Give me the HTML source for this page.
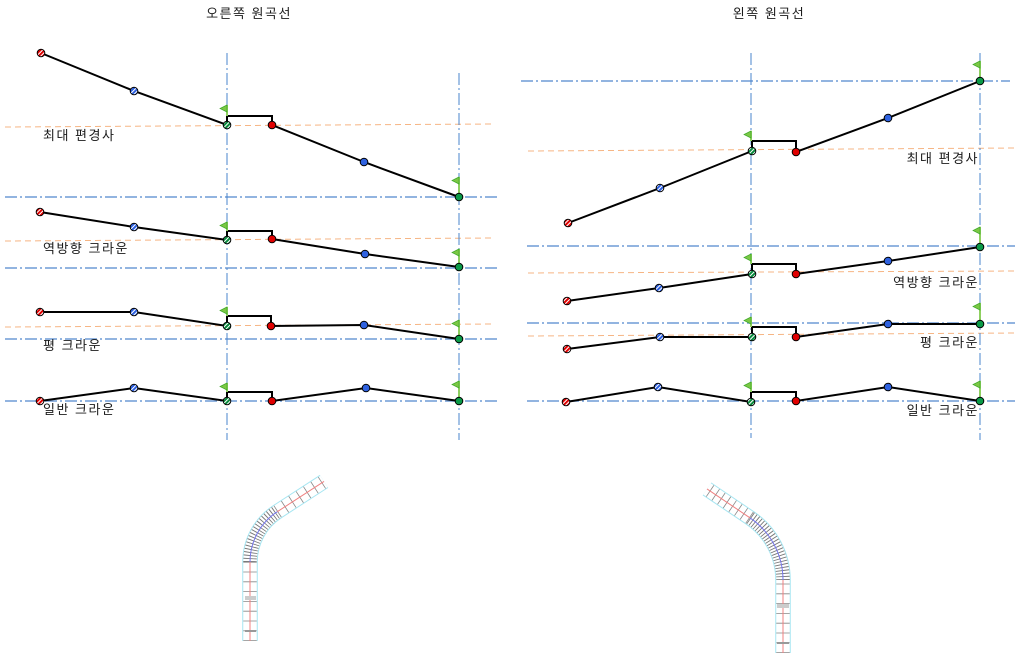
<!DOCTYPE html>
<html><head><meta charset="utf-8"><style>
html,body{margin:0;padding:0;background:#fff;}
svg{display:block;}
text{font-family:"Liberation Sans","Noto Sans CJK KR",sans-serif;font-size:13px;fill:#1a1a1a;letter-spacing:1.5px;}
</style></head><body>
<svg width="1024" height="668" viewBox="0 0 1024 668" xmlns="http://www.w3.org/2000/svg">
<defs>
<pattern id="hr" patternUnits="userSpaceOnUse" width="3" height="3" patternTransform="rotate(45)"><rect width="3" height="3" fill="#fff"/><rect width="2" height="3" fill="#e00000"/></pattern>
<pattern id="hb" patternUnits="userSpaceOnUse" width="3" height="3" patternTransform="rotate(45)"><rect width="3" height="3" fill="#fff"/><rect width="2" height="3" fill="#2a5ee0"/></pattern>
<pattern id="hg" patternUnits="userSpaceOnUse" width="3" height="3" patternTransform="rotate(45)"><rect width="3" height="3" fill="#fff"/><rect width="2" height="3" fill="#078a3c"/></pattern>
</defs>

<!-- titles -->
<text x="249" y="18" text-anchor="middle">오른쪽 원곡선</text>
<text x="769" y="18" text-anchor="middle">왼쪽 원곡선</text>

<!-- orange dashed lines -->
<g stroke="#f6b584" stroke-width="1" stroke-dasharray="6 4" fill="none">
<line x1="5" y1="127" x2="492" y2="124"/>
<line x1="5" y1="241" x2="492" y2="238"/>
<line x1="5" y1="327" x2="492" y2="324"/>
<line x1="528" y1="151" x2="1015" y2="148"/>
<line x1="528" y1="273" x2="1015" y2="271"/>
<line x1="528" y1="336" x2="1015" y2="333"/>
</g>

<!-- blue dash-dot horizontal -->
<g stroke="#6f9bd6" stroke-width="1.5" stroke-dasharray="12 3 2 3" fill="none">
<line x1="5" y1="197" x2="497" y2="197"/>
<line x1="5" y1="268" x2="497" y2="268"/>
<line x1="5" y1="339" x2="497" y2="339"/>
<line x1="5" y1="401" x2="497" y2="401"/>
<line x1="521" y1="81" x2="1010" y2="81"/>
<line x1="527" y1="246" x2="1015" y2="246"/>
<line x1="527" y1="323" x2="1015" y2="323"/>
<line x1="527" y1="401" x2="1015" y2="401"/>
</g>
<!-- blue dash-dot vertical -->
<g stroke="#4a84cc" stroke-width="1" stroke-dasharray="12 3 2 3" fill="none">
<line x1="227" y1="53" x2="227" y2="440"/>
<line x1="459" y1="73" x2="459" y2="440"/>
<line x1="751" y1="53" x2="751" y2="438"/>
<line x1="980" y1="53" x2="980" y2="440"/>
</g>

<!-- labels -->
<text x="43" y="140">최대 편경사</text>
<text x="43" y="253">역방향 크라운</text>
<text x="43" y="350">평 크라운</text>
<text x="43" y="414">일반 크라운</text>
<text x="979" y="163" text-anchor="end">최대 편경사</text>
<text x="979" y="287" text-anchor="end">역방향 크라운</text>
<text x="979" y="347" text-anchor="end">평 크라운</text>
<text x="979" y="415" text-anchor="end">일반 크라운</text>

<!-- profile lines -->
<g stroke="#000" stroke-width="2" fill="none" stroke-linejoin="miter">
<polyline points="41,53 134,91 227,125 227,116 272,116 272,125 364,162 459,197"/>
<polyline points="40,212 134,227 227,240 227,231 272,231 272,239 365,254 459,267"/>
<polyline points="40,312 134,312 227,326 227,316 271,316 271,326 364,325 459,339"/>
<polyline points="40,401 134,388 227,401 227,392 272,392 272,401 366,388 459,401"/>
<polyline points="568,223 660,188 752,151 752,141 796,141 796,152 888,118 980,81"/>
<polyline points="567,301 659,288 752,274 752,264 796,264 796,274 888,261 980,247"/>
<polyline points="567,349 660,337 752,337 752,327 796,327 796,337 888,324 980,324"/>
<polyline points="566,402 658,387 751,402 751,392 796,392 796,401 888,387 980,401"/>
</g>

<!-- flags -->
<g>
<g stroke="#8fd060" stroke-width="2">
<line x1="227" y1="105" x2="227" y2="116"/><line x1="459" y1="177" x2="459" y2="197"/>
<line x1="227" y1="222" x2="227" y2="231"/><line x1="459" y1="249" x2="459" y2="267"/>
<line x1="227" y1="307" x2="227" y2="316"/><line x1="459" y1="320" x2="459" y2="339"/>
<line x1="227" y1="383" x2="227" y2="392"/><line x1="459" y1="381" x2="459" y2="401"/>
<line x1="751" y1="131" x2="751" y2="141"/><line x1="980" y1="61" x2="980" y2="81"/>
<line x1="751" y1="254" x2="751" y2="264"/><line x1="980" y1="227" x2="980" y2="246"/>
<line x1="751" y1="317" x2="751" y2="327"/><line x1="980" y1="303" x2="980" y2="323"/>
<line x1="751" y1="382" x2="751" y2="392"/><line x1="980" y1="381" x2="980" y2="401"/>
</g>
<g fill="#7cc845" stroke="#3fa82a" stroke-width="0.7">
<polygon points="227,105 220,108.5 227,112"/><polygon points="459,177 452,180.5 459,184"/>
<polygon points="227,222 220,225.5 227,229"/><polygon points="459,249 452,252.5 459,256"/>
<polygon points="227,307 220,310.5 227,314"/><polygon points="459,320 452,323.5 459,327"/>
<polygon points="227,383 220,386.5 227,390"/><polygon points="459,381 452,384.5 459,388"/>
<polygon points="751,131 744,134.5 751,138"/><polygon points="980,61 973,64.5 980,68"/>
<polygon points="751,254 744,257.5 751,261"/><polygon points="980,227 973,230.5 980,234"/>
<polygon points="751,317 744,320.5 751,324"/><polygon points="980,303 973,306.5 980,310"/>
<polygon points="751,382 744,385.5 751,389"/><polygon points="980,381 973,384.5 980,388"/>
</g>
</g>

<!-- markers -->
<g stroke="#000" stroke-width="1">
<circle cx="41" cy="53" r="3.8" fill="url(#hr)"/><circle cx="134" cy="91" r="3.8" fill="url(#hb)"/><circle cx="227" cy="125" r="3.8" fill="url(#hg)"/>
<circle cx="272" cy="125" r="3.8" fill="#e00000"/><circle cx="364" cy="162" r="3.8" fill="#2f62e0"/><circle cx="459" cy="197" r="3.8" fill="#0a9a48"/>
<circle cx="40" cy="212" r="3.8" fill="url(#hr)"/><circle cx="134" cy="227" r="3.8" fill="url(#hb)"/><circle cx="227" cy="240" r="3.8" fill="url(#hg)"/>
<circle cx="272" cy="239" r="3.8" fill="#e00000"/><circle cx="365" cy="254" r="3.8" fill="#2f62e0"/><circle cx="459" cy="267" r="3.8" fill="#0a9a48"/>
<circle cx="40" cy="312" r="3.8" fill="url(#hr)"/><circle cx="134" cy="312" r="3.8" fill="url(#hb)"/><circle cx="227" cy="326" r="3.8" fill="url(#hg)"/>
<circle cx="271" cy="326" r="3.8" fill="#e00000"/><circle cx="364" cy="325" r="3.8" fill="#2f62e0"/><circle cx="459" cy="339" r="3.8" fill="#0a9a48"/>
<circle cx="40" cy="401" r="3.8" fill="url(#hr)"/><circle cx="134" cy="388" r="3.8" fill="url(#hb)"/><circle cx="227" cy="401" r="3.8" fill="url(#hg)"/>
<circle cx="272" cy="401" r="3.8" fill="#e00000"/><circle cx="366" cy="388" r="3.8" fill="#2f62e0"/><circle cx="459" cy="401" r="3.8" fill="#0a9a48"/>
<circle cx="568" cy="223" r="3.8" fill="url(#hr)"/><circle cx="660" cy="188" r="3.8" fill="url(#hb)"/><circle cx="752" cy="151" r="3.8" fill="url(#hg)"/>
<circle cx="796" cy="152" r="3.8" fill="#e00000"/><circle cx="888" cy="118" r="3.8" fill="#2f62e0"/><circle cx="980" cy="81" r="3.8" fill="#0a9a48"/>
<circle cx="567" cy="301" r="3.8" fill="url(#hr)"/><circle cx="659" cy="288" r="3.8" fill="url(#hb)"/><circle cx="752" cy="274" r="3.8" fill="url(#hg)"/>
<circle cx="796" cy="274" r="3.8" fill="#e00000"/><circle cx="888" cy="261" r="3.8" fill="#2f62e0"/><circle cx="980" cy="247" r="3.8" fill="#0a9a48"/>
<circle cx="567" cy="349" r="3.8" fill="url(#hr)"/><circle cx="660" cy="337" r="3.8" fill="url(#hb)"/><circle cx="752" cy="337" r="3.8" fill="url(#hg)"/>
<circle cx="796" cy="337" r="3.8" fill="#e00000"/><circle cx="888" cy="324" r="3.8" fill="#2f62e0"/><circle cx="980" cy="324" r="3.8" fill="#0a9a48"/>
<circle cx="566" cy="402" r="3.8" fill="url(#hr)"/><circle cx="658" cy="387" r="3.8" fill="url(#hb)"/><circle cx="751" cy="402" r="3.8" fill="url(#hg)"/>
<circle cx="796" cy="401" r="3.8" fill="#e00000"/><circle cx="888" cy="387" r="3.8" fill="#2f62e0"/><circle cx="980" cy="401" r="3.8" fill="#0a9a48"/>
</g>

<!-- left road sketch -->
<g fill="none">
<path d="M250,641 L250,562 A60,60 0 0 1 277.3,511.7 L324,481.4" stroke="#a6e6f2" stroke-width="15.5"/>
<path d="M250,641 L250,562 A60,60 0 0 1 277.3,511.7 L324,481.4" stroke="#fff" stroke-width="13.5"/>
<path d="M250,641 L250,562" stroke="#888" stroke-width="13.5" stroke-dasharray="0.8 9"/>
<path d="M250,562 A60,60 0 0 1 277.3,511.7" stroke="#777" stroke-width="13.5" stroke-dasharray="0.9 2.1"/>
<path d="M277.3,511.7 L324,481.4" stroke="#888" stroke-width="13.5" stroke-dasharray="0.8 8"/>
<path d="M250,641 L250,562" stroke="#f08080" stroke-width="1"/>
<path d="M250,562 A60,60 0 0 1 277.3,511.7" stroke="#7777ee" stroke-width="1"/>
<path d="M277.3,511.7 L324,481.4" stroke="#f08080" stroke-width="1"/>
<rect x="245" y="596" width="11" height="4" fill="#ccc"/>
<rect x="245" y="630" width="11" height="2" fill="#999"/>
</g>
<!-- right road sketch -->
<g fill="none">
<path d="M783,653 L783,580 A75,75 0 0 0 749.9,517.8 L707,488.9" stroke="#a6e6f2" stroke-width="15.5"/>
<path d="M783,653 L783,580 A75,75 0 0 0 749.9,517.8 L707,488.9" stroke="#fff" stroke-width="13.5"/>
<path d="M783,653 L783,580" stroke="#888" stroke-width="13.5" stroke-dasharray="0.8 9"/>
<path d="M783,580 A75,75 0 0 0 749.9,517.8" stroke="#777" stroke-width="13.5" stroke-dasharray="0.9 2.1"/>
<path d="M749.9,517.8 L707,488.9" stroke="#888" stroke-width="13.5" stroke-dasharray="0.8 6"/>
<path d="M783,653 L783,580" stroke="#f08080" stroke-width="1"/>
<path d="M783,580 A75,75 0 0 0 749.9,517.8" stroke="#7777ee" stroke-width="1"/>
<path d="M749.9,517.8 L707,488.9" stroke="#f08080" stroke-width="1"/>
<rect x="777" y="604" width="12" height="4" fill="#ccc"/>
<rect x="777" y="642" width="12" height="2" fill="#999"/>
</g>
</svg>
</body></html>
